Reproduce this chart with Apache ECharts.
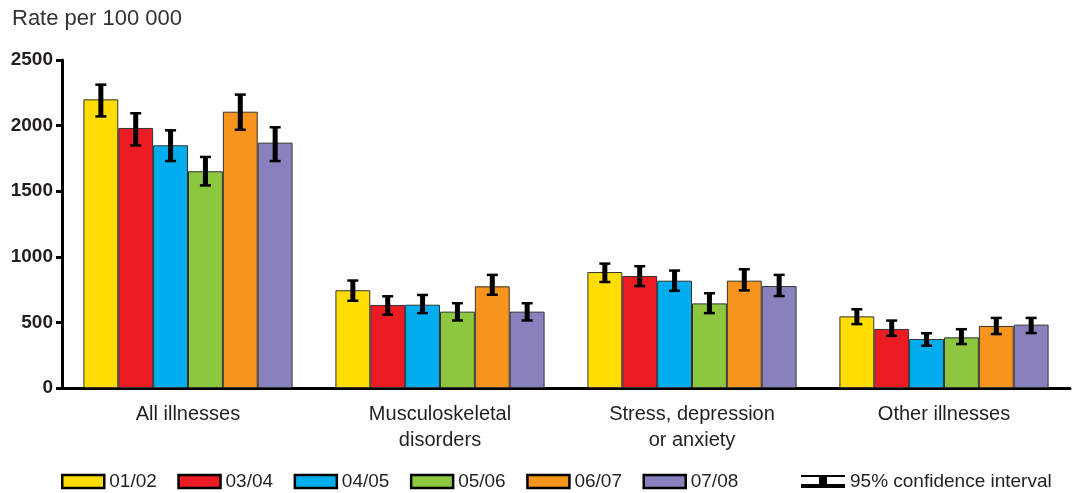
<!DOCTYPE html>
<html>
<head>
<meta charset="utf-8">
<script src="https://cdn.jsdelivr.net/npm/echarts@6/dist/echarts.min.js"></script>
<style>
html,body{margin:0;padding:0;background:#fff;}
#chart{width:1073px;height:493px;}
</style>
</head>
<body>
<div id="chart"></div>
<script>
var categories = ['All illnesses', 'Musculoskeletal\ndisorders', 'Stress, depression\nor anxiety', 'Other illnesses'];
var years = ['01/02', '03/04', '04/05', '05/06', '06/07', '07/08'];
var colors = ['#FFDD00', '#ED1C24', '#00AEEF', '#8DC63F', '#F7941D', '#8781BD'];
var yTicks = [0, 500, 1000, 1500, 2000, 2500];

var v0102 = [2200, 745, 884, 546];
var v0304 = [1982, 633, 854, 450];
var v0405 = [1850, 635, 818, 373];
var v0506 = [1652, 582, 645, 386];
var v0607 = [2106, 775, 818, 473];
var v0708 = [1870, 582, 777, 483];

var lo0102 = [2068, 663, 806, 485];
var lo0304 = [1847, 556, 775, 396];
var lo0405 = [1728, 569, 739, 320];
var lo0506 = [1542, 513, 569, 333];
var lo0607 = [1966, 709, 742, 409];
var lo0708 = [1728, 513, 699, 417];

var hi0102 = [2314, 821, 950, 602];
var hi0304 = [2096, 701, 930, 516];
var hi0405 = [1966, 711, 897, 419];
var hi0506 = [1763, 648, 724, 450];
var hi0607 = [2238, 864, 907, 536];
var hi0708 = [1989, 648, 864, 536];

var values = [v0102, v0304, v0405, v0506, v0607, v0708];
var lows = [lo0102, lo0304, lo0405, lo0506, lo0607, lo0708];
var highs = [hi0102, hi0304, hi0405, hi0506, hi0607, hi0708];

var CAT_GAP = 0.17;
var FONT = "'Liberation Sans', Arial, Helvetica, sans-serif";
var TXT = '#231f20';

var series = years.map(function (y, i) {
  return {
    name: y, type: 'bar', data: values[i],
    barGap: '0%', barCategoryGap: (CAT_GAP * 100) + '%',
    itemStyle: { color: colors[i], borderColor: '#333', borderWidth: 1 },
    z: 2
  };
});

var ciData = [];
for (var s = 0; s < years.length; s++) {
  for (var c = 0; c < categories.length; c++) {
    ciData.push([c, s, lows[s][c], highs[s][c]]);
  }
}

series.push({
  name: '95% confidence interval',
  type: 'custom',
  data: ciData,
  encode: { x: 0, y: [2, 3] },
  z: 5,
  itemStyle: { color: '#000' },
  renderItem: function (params, api) {
    var cat = api.value(0), si = api.value(1);
    var band = api.size([1, 0])[0];
    var bw = band * (1 - CAT_GAP) / years.length;
    var cx = api.coord([cat, 0])[0] + (si - (years.length - 1) / 2) * bw;
    var yh = api.coord([cat, api.value(3)])[1];
    var yl = api.coord([cat, api.value(2)])[1];
    return {
      type: 'group',
      children: [
        { type: 'rect', shape: { x: cx - 2.5, y: yh, width: 5, height: yl - yh }, style: { fill: '#000' } },
        { type: 'rect', shape: { x: cx - 5.5, y: yh - 1, width: 11, height: 2.5 }, style: { fill: '#000' } },
        { type: 'rect', shape: { x: cx - 5.5, y: yl - 1.5, width: 11, height: 2.5 }, style: { fill: '#000' } }
      ]
    };
  }
});

var option = {
  animation: false,
  backgroundColor: '#fff',
  title: {
    text: 'Rate per 100 000', left: 12, top: 8, padding: 0,
    textStyle: { fontFamily: FONT, fontSize: 22, fontWeight: 'normal', color: '#333' }
  },
  legend: [{
    data: years, left: 61, top: 472, padding: 0, itemWidth: 42, itemHeight: 13, itemGap: 20.5,
    icon: 'rect',
    itemStyle: { borderColor: '#000', borderWidth: 2.5 },
    textStyle: { fontFamily: FONT, fontSize: 19, color: TXT },
    selectedMode: false
  }, {
    data: ['95% confidence interval'], left: 801, top: 472, padding: 0, itemWidth: 44, itemHeight: 13,
    icon: 'path://M0,0 L44,0 L44,2 L26,2 L26,9 L44,9 L44,13 L0,13 L0,9 L18,9 L18,2 L0,2 Z',
    itemStyle: { color: '#000' },
    textStyle: { fontFamily: FONT, fontSize: 19, color: TXT },
    selectedMode: false
  }],
  grid: { left: 62, right: 3, top: 60, bottom: 105, containLabel: false },
  xAxis: {
    type: 'category', data: categories,
    axisLine: { lineStyle: { color: '#000', width: 3 } },
    axisTick: { show: false },
    axisLabel: { fontFamily: FONT, fontSize: 20, lineHeight: 26, color: TXT, margin: 13, interval: 0 }
  },
  yAxis: {
    type: 'value', min: yTicks[0], max: yTicks[yTicks.length - 1], interval: yTicks[1] - yTicks[0],
    axisLine: { show: true, lineStyle: { color: '#000', width: 3 } },
    axisTick: { show: true, length: 6, lineStyle: { color: '#000', width: 3 } },
    splitLine: { show: false },
    axisLabel: {
      fontFamily: FONT, fontSize: 19, fontWeight: 'bold', color: TXT, margin: 9,
      formatter: function (v) { return String(v); }
    }
  },
  series: series
};

var chart = echarts.init(document.getElementById('chart'), null, { renderer: 'canvas' });
chart.setOption(option);
</script>
</body>
</html>
